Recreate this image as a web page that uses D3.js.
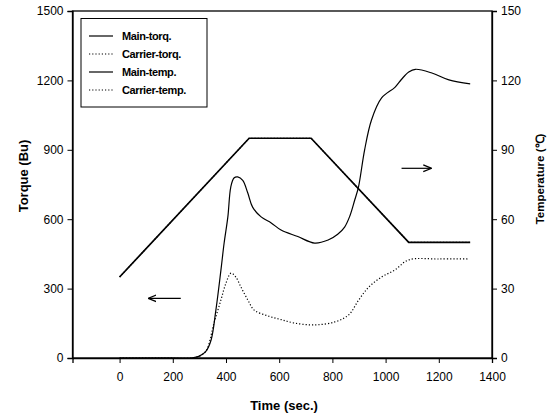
<!DOCTYPE html>
<html><head><meta charset="utf-8">
<script src="https://cdn.jsdelivr.net/npm/d3@7"></script>
<style>body{margin:0;background:#fff}svg{display:block}</style>
</head><body><svg id="c" width="554" height="420"></svg>
<script>
// Data (time in sec, torque in Bu, temperature in °C)
const seriesNames = ["Main-torq.", "Carrier-torq.", "Main-temp.", "Carrier-temp."];
const mainTorqTime = [0, 150, 270, 300, 325, 344, 362, 381, 393, 407, 418, 430, 444, 463, 482, 500, 532, 570, 607, 670, 733, 784, 820, 846, 866, 884, 898, 921, 947, 985, 1035, 1060, 1087, 1112, 1174, 1238, 1318];
const mainTorqVal  = [0, 0, 0, 8, 30, 78, 207, 380, 497, 610, 739, 778, 783, 768, 713, 652, 610, 584, 553, 525, 497, 510, 535, 566, 615, 683, 739, 899, 1029, 1124, 1170, 1205, 1236, 1248, 1232, 1202, 1185];
const carTorqTime  = [0, 150, 270, 300, 325, 355, 381, 400, 419, 437, 456, 482, 506, 557, 607, 658, 733, 809, 861, 899, 937, 985, 1034, 1087, 1200, 1315];
const carTorqVal   = [0, 0, 0, 8, 30, 151, 251, 324, 367, 350, 307, 251, 207, 182, 166, 151, 143, 156, 186, 251, 307, 350, 380, 424, 428, 428];
const mainTempTime = [0, 487, 720, 1087, 1318];
const mainTempVal  = [35, 95, 95, 50, 50];
const carTempTime  = [0, 487, 720, 1087, 1318];
const carTempVal   = [35, 95, 95, 50, 50];
const xTicks = [0, 200, 400, 600, 800, 1000, 1200, 1400];
const yTicks = [0, 300, 600, 900, 1200, 1500];
const y2Ticks = [0, 30, 60, 90, 120, 150];

const svg = d3.select("#c");
const L = 72.5, R = 492, T = 11, B = 358;
const x = d3.scaleLinear().domain([-177, 1400]).range([L, R]);
const y = d3.scaleLinear().domain([0, 1500]).range([B, T]);
const y2 = d3.scaleLinear().domain([0, 150]).range([B, T]);
const font = "'Liberation Sans', Arial, sans-serif";

// frame
svg.append("rect").attr("x", L).attr("y", T).attr("width", R - L).attr("height", B - T)
  .attr("fill", "none").attr("stroke", "#000").attr("stroke-width", 1.3);

function styleAxis(g) {
  g.selectAll("path").attr("stroke", "#000").attr("stroke-width", 1.3);
  g.selectAll("line").attr("stroke", "#000").attr("stroke-width", 1);
  g.selectAll("text").attr("font-family", font).attr("font-size", 12).attr("fill", "#000");
}
svg.append("g").attr("transform", `translate(0,${B})`)
  .call(d3.axisBottom(x).tickValues(xTicks).tickSize(5).tickPadding(9).tickFormat(d3.format("d")))
  .call(styleAxis);
svg.append("g").attr("transform", `translate(${L},0)`)
  .call(d3.axisLeft(y).tickValues(yTicks).tickSize(5).tickPadding(4).tickFormat(d3.format("d")))
  .call(styleAxis);
svg.append("g").attr("transform", `translate(${R},0)`)
  .call(d3.axisRight(y2).tickValues(y2Ticks).tickSize(5).tickPadding(4).tickFormat(d3.format("d")))
  .call(styleAxis);

// axis titles
svg.append("text").attr("x", 284).attr("y", 410).attr("text-anchor", "middle")
  .attr("font-family", font).attr("font-weight", "bold").attr("font-size", 13).text("Time (sec.)");
svg.append("text").attr("transform", "translate(28,176) rotate(-90)").attr("text-anchor", "middle")
  .attr("font-family", font).attr("font-weight", "bold").attr("font-size", 13).text("Torque (Bu)");
svg.append("text").attr("transform", "translate(544,179) rotate(-90)").attr("text-anchor", "middle")
  .attr("font-family", font).attr("font-weight", "bold").attr("font-size", 11.5).text("Temperature (℃)");

const lineT = d3.line().curve(d3.curveCatmullRom.alpha(0.5));
const lineLin = d3.line();
function pts(ts, vs, sc) { return ts.map((t, i) => [x(t), sc(vs[i])]); }

svg.append("path").attr("d", lineT(pts(carTorqTime, carTorqVal, y)))
  .attr("fill", "none").attr("stroke", "#000").attr("stroke-width", 1.2).attr("stroke-dasharray", "1.2,2");
svg.append("path").attr("d", lineT(pts(mainTorqTime, mainTorqVal, y)))
  .attr("fill", "none").attr("stroke", "#000").attr("stroke-width", 1.2);
svg.append("path").attr("d", lineLin(pts(carTempTime, carTempVal, y2)))
  .attr("fill", "none").attr("stroke", "#000").attr("stroke-width", 1.2).attr("stroke-dasharray", "1.2,2");
svg.append("path").attr("d", lineLin(pts(mainTempTime, mainTempVal, y2)))
  .attr("fill", "none").attr("stroke", "#000").attr("stroke-width", 1.7);

// arrows
const defs = svg.append("defs");
defs.append("marker").attr("id", "ah").attr("viewBox", "0 0 10 10").attr("refX", 9).attr("refY", 5)
  .attr("markerWidth", 7).attr("markerHeight", 7).attr("orient", "auto-start-reverse")
  .append("path").attr("d", "M0,1 L10,5 L0,9").attr("fill", "none").attr("stroke", "#000").attr("stroke-width", 1.5);
svg.append("line").attr("x1", x(230)).attr("x2", x(110)).attr("y1", y(258)).attr("y2", y(258))
  .attr("stroke", "#000").attr("stroke-width", 1.2).attr("marker-end", "url(#ah)");
svg.append("line").attr("x1", x(1060)).attr("x2", x(1170)).attr("y1", y(820)).attr("y2", y(820))
  .attr("stroke", "#000").attr("stroke-width", 1.2).attr("marker-end", "url(#ah)");

// legend
const lg = svg.append("g");
lg.append("rect").attr("x", 81).attr("y", 18.5).attr("width", 126).attr("height", 88.5)
  .attr("fill", "#fff").attr("stroke", "#000").attr("stroke-width", 1);
const dashes = [null, "1.2,2", null, "1.2,2"];
seriesNames.forEach((n, i) => {
  const yy = 36 + i * 18;
  lg.append("line").attr("x1", 89).attr("x2", 113).attr("y1", yy).attr("y2", yy)
    .attr("stroke", "#000").attr("stroke-width", 1.2).attr("stroke-dasharray", dashes[i]);
  lg.append("text").attr("x", 122).attr("y", yy + 4).attr("font-family", font).attr("font-weight", "bold")
    .attr("font-size", 11).attr("letter-spacing", -0.4).text(n);
});
</script></body></html>
